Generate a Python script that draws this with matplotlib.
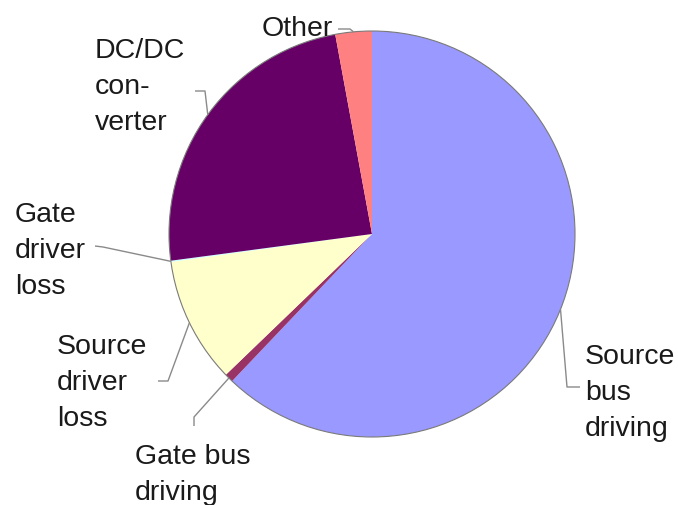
import numpy as np
import matplotlib.pyplot as plt
from matplotlib.patches import Circle

plt.rcParams['font.family'] = ['Liberation Sans', 'DejaVu Sans']

# power budget shares, clockwise from 12 o'clock (%)
labels = ['Source\nbus\ndriving', 'Gate bus\ndriving', 'Source\ndriver\nloss',
          'Gate\ndriver\nloss', 'DC/DC\ncon-\nverter', 'Other']
shares = [62.1, 0.7, 10.0, 0.1, 24.2, 2.9]
colors = ['#9999FF', '#993366', '#FFFFCC', '#CCFFFF', '#660066', '#FF8080']

W, H = 678, 506
cx, cy, r = 372, H - 235, 203

# label block position (left x, centre y) and leader bend points, in pixels from top-left
label_pos = [(585, 393), (135, 475), (57, 383), (15, 251), (95, 87), (262, 29)]
leader_pts = [
    [(580, 388), (567, 388)],
    [(194, 427), (194, 418)],
    [(158, 382), (168, 382)],
    [(95, 247), (103, 248)],
    [(195, 92), (205, 92)],
    [(338, 30), (350, 30)],
]

fig = plt.figure(figsize=(W / 100, H / 100), dpi=100)
ax = fig.add_axes([0, 0, 1, 1])

wedges, _ = ax.pie(shares, colors=colors, startangle=90, counterclock=False,
                   center=(cx, cy), radius=r, wedgeprops=dict(linewidth=0))
ax.add_patch(Circle((cx, cy), r, fill=False, edgecolor='#7a7a7a', linewidth=0.8))
ax.set_aspect('equal')
ax.set_xlim(0, W)
ax.set_ylim(0, H)
ax.axis('off')

for w, lab, (tx, ty), pts in zip(wedges, labels, label_pos, leader_pts):
    mid = np.deg2rad((w.theta1 + w.theta2) / 2)
    ex, ey = cx + r * np.cos(mid), cy + r * np.sin(mid)
    xs = [p[0] for p in pts] + [ex]
    ys = [H - p[1] for p in pts] + [ey]
    ax.plot(xs, ys, color='#8a8a8a', linewidth=1.0, solid_capstyle='butt')
    ax.text(tx, H - ty, lab, ha='left', va='center', fontsize=20.5,
            color='#1a1a1a', linespacing=1.52)

fig.savefig('out.png', dpi=100)
